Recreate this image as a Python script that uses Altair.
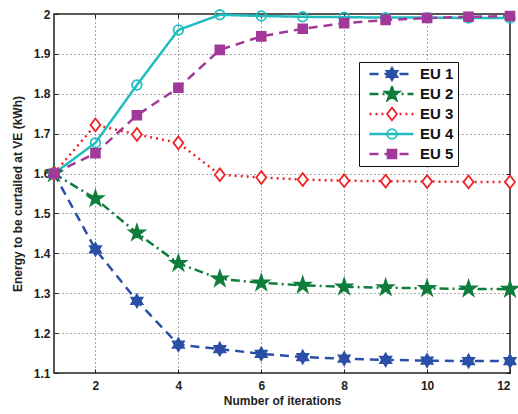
import altair as alt
import pandas as pd

iterations = list(range(1, 13))
series_names = ["EU 1", "EU 2", "EU 3", "EU 4", "EU 5"]
eu1 = [1.600, 1.410, 1.281, 1.171, 1.160, 1.148, 1.140, 1.136, 1.133, 1.131, 1.130, 1.130]
eu2 = [1.600, 1.537, 1.451, 1.375, 1.336, 1.326, 1.320, 1.316, 1.314, 1.312, 1.311, 1.310]
eu3 = [1.600, 1.722, 1.698, 1.677, 1.597, 1.590, 1.585, 1.582, 1.581, 1.580, 1.579, 1.579]
eu4 = [1.600, 1.677, 1.822, 1.960, 1.998, 1.995, 1.993, 1.992, 1.991, 1.991, 1.990, 1.990]
eu5 = [1.600, 1.651, 1.746, 1.815, 1.910, 1.944, 1.963, 1.977, 1.985, 1.990, 1.993, 1.995]
x_ticks = [2, 4, 6, 8, 10, 12]
y_ticks = [1.1, 1.2, 1.3, 1.4, 1.5, 1.6, 1.7, 1.8, 1.9, 2.0]

colors = ["#2b4fa6", "#0f7d3b", "#ef2226", "#20bdc0", "#a2399a"]
fills = ["#2b4fa6", "#0f7d3b", "#ffffff", "transparent", "#a2399a"]
dashes = [[9, 6], [9, 4, 2, 4], [2, 4], [1, 0], [9, 6]]
hexagram = ("M0,-0.8 L0.231,-0.4 L0.693,-0.4 L0.462,0 L0.693,0.4 L0.231,0.4 L0,0.8 "
            "L-0.231,0.4 L-0.693,0.4 L-0.462,0 L-0.693,-0.4 L-0.231,-0.4 Z")
pentagram = ("M0,-1 L0.2245,-0.309 L0.951,-0.309 L0.363,0.118 L0.588,0.809 L0,0.382 "
             "L-0.588,0.809 L-0.363,0.118 L-0.951,-0.309 L-0.2245,-0.309 Z")
diamond = "M0,-0.8 L0.62,0 L0,0.8 L-0.62,0 Z"
circle = "M0.6,0 A0.6,0.6 0 1,1 -0.6,0 A0.6,0.6 0 1,1 0.6,0 Z"
square = "M-0.55,-0.55 L0.55,-0.55 L0.55,0.55 L-0.55,0.55 Z"
shapes = [hexagram, pentagram, diamond, circle, square]

rows = []
for name, vals in zip(series_names, [eu1, eu2, eu3, eu4, eu5]):
    for it, v in zip(iterations, vals):
        rows.append({"iter": it, "value": v, "series": name, "series_p": name})
df = pd.DataFrame(rows)

FONT = "Liberation Sans"
x_scale = alt.Scale(domain=[1, 12], nice=False)
y_scale = alt.Scale(domain=[1.1, 2.0], nice=False, zero=False)

x_main = alt.X("iter:Q", scale=x_scale,
               axis=alt.Axis(values=x_ticks, title="Number of iterations", orient="bottom",
                             labelFont=FONT, labelFontWeight="bold", labelFontSize=12,
                             titleFont=FONT, titleFontWeight="bold", titleFontSize=12,
                             labelPadding=7, titlePadding=4, ticks=False, domain=False,
                             labelOverlap=False, labelColor="#222", titleColor="#222",
                             gridDash=[1, 3], gridColor="#555", gridWidth=1))
y_main = alt.Y("value:Q", scale=y_scale,
               axis=alt.Axis(values=y_ticks, title="Energy to be curtailed at VE (kWh)",
                             orient="left",
                             labelExpr="datum.value == 2 ? '2' : format(datum.value, '.1f')",
                             labelFont=FONT, labelFontWeight="bold", labelFontSize=12,
                             titleFont=FONT, titleFontWeight="bold", titleFontSize=12,
                             labelPadding=4, titlePadding=9, ticks=False, domain=False,
                             labelOverlap=False, labelFlush=False,
                             labelColor="#222", titleColor="#222",
                             gridDash=[1, 3], gridColor="#555", gridWidth=1))


def tick_axis(values, orient):
    return alt.Axis(values=values, orient=orient, offset=-4, tickSize=4, tickWidth=1,
                    tickColor="#222", labels=False, grid=False, domain=False, title=None)


legend_common = dict(orient="none", legendY=48, padding=4, clipHeight=16,
                     rowPadding=4, title=None, labelFont=FONT, labelFontWeight="bold",
                     labelFontSize=15, labelOffset=5, labelColor="#111")

lines = alt.Chart(df).mark_line(strokeWidth=2.5).encode(
    x=x_main,
    y=y_main,
    stroke=alt.Stroke("series:N", scale=alt.Scale(domain=series_names, range=colors),
                      legend=alt.Legend(symbolType="stroke", symbolSize=1936,
                                        symbolStrokeWidth=2.5, symbolOffset=5,
                                        legendX=305, strokeColor="#111",
                                        fillColor="white", zindex=1,
                                        **legend_common)),
    strokeDash=alt.StrokeDash("series:N", scale=alt.Scale(domain=series_names, range=dashes)),
)

legend_pts = dict(legend_common)
legend_pts["labelExpr"] = "''"
points = alt.Chart(df).mark_point(filled=False, strokeWidth=1.8, opacity=1, size=256).encode(
    x=alt.X("iter:Q", scale=x_scale, axis=None),
    y=alt.Y("value:Q", scale=y_scale, axis=None),
    color=alt.Color("series_p:N", scale=alt.Scale(range=colors),
                    legend=alt.Legend(symbolSize=256, symbolStrokeWidth=1.8,
                                      legendX=325, zindex=2, **legend_pts)),
    fill=alt.Fill("series_p:N", scale=alt.Scale(range=fills)),
    shape=alt.Shape("series_p:N", scale=alt.Scale(range=shapes)),
)

ticks_bl = alt.Chart(df).mark_point(opacity=0).encode(
    x=alt.X("iter:Q", scale=x_scale, axis=tick_axis(x_ticks, "bottom")),
    y=alt.Y("value:Q", scale=y_scale, axis=tick_axis(y_ticks, "left")),
)
ticks_tr = alt.Chart(df).mark_point(opacity=0).encode(
    x=alt.X("iter:Q", scale=x_scale, axis=tick_axis(x_ticks, "top")),
    y=alt.Y("value:Q", scale=y_scale, axis=tick_axis(y_ticks, "right")),
)

chart = alt.layer(lines, points, ticks_bl, ticks_tr).resolve_axis(
    x="independent", y="independent"
).properties(
    width=456, height=359,
    autosize=alt.AutoSizeParams(type="none"),
    padding={"left": 54, "top": 14, "right": 8, "bottom": 41},
    background="white",
).configure_view(stroke="#222", strokeWidth=1.5)

chart.save("out.html", embed_options={"renderer": "svg", "actions": False})
